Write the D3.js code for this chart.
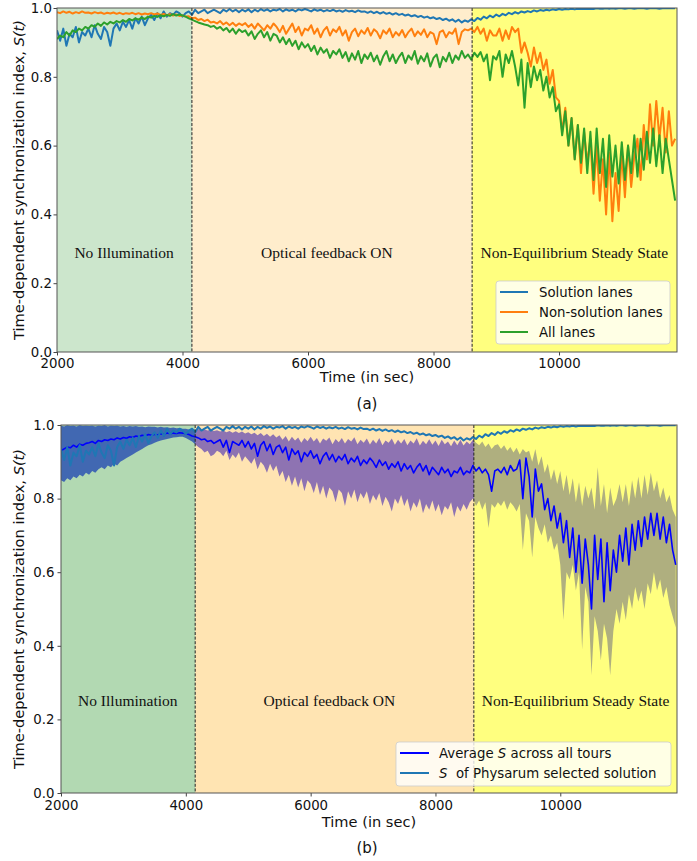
<!DOCTYPE html>
<html>
<head>
<meta charset="utf-8">
<script src="https://cdn.jsdelivr.net/npm/d3@7"></script>
<style>
  body { margin: 0; background: #fff; }
</style>
</head>
<body>
<div id="chart-container"></div>
<script>
// sampled every 50 s starting at 2000 s
const t_start = 2000;
const t_step = 50;

const solution_lanes = [
  0.935, 0.905, 0.94, 0.89, 0.925, 0.915, 0.945, 0.9, 0.93, 0.92,
  0.94, 0.915, 0.95, 0.925, 0.91, 0.945, 0.93, 0.89, 0.94, 0.955,
  0.935, 0.96, 0.945, 0.965, 0.94, 0.97, 0.955, 0.975, 0.95, 0.97,
  0.98, 0.965, 0.985, 0.97, 0.99, 0.975, 0.985, 0.98, 0.99, 0.985,
  0.975, 0.985, 0.99, 0.98, 0.995, 0.985, 0.99, 0.995, 0.985, 0.99,
  0.995, 0.99, 0.985, 0.995, 0.99, 0.997, 0.99, 0.995, 0.988, 0.995,
  0.99, 0.996, 0.988, 0.995, 0.99, 0.997, 0.992, 0.996, 0.99, 0.995,
  0.993, 0.997, 0.99, 0.996, 0.992, 0.995, 0.99, 0.996, 0.993, 0.997,
  0.994, 0.99, 0.996, 0.992, 0.995, 0.99, 0.994, 0.991, 0.995, 0.99,
  0.993, 0.989, 0.994, 0.99, 0.992, 0.988, 0.993, 0.989, 0.99, 0.986,
  0.99, 0.985, 0.989, 0.984, 0.988, 0.983, 0.986, 0.981, 0.985, 0.98,
  0.983, 0.978, 0.981, 0.976, 0.979, 0.974, 0.977, 0.972, 0.975, 0.97,
  0.973, 0.968, 0.971, 0.965, 0.969, 0.963, 0.967, 0.96, 0.966, 0.958,
  0.964, 0.96, 0.967, 0.962, 0.971, 0.966, 0.975, 0.97, 0.978, 0.973,
  0.981, 0.976, 0.983, 0.979, 0.986, 0.982, 0.988, 0.984, 0.99, 0.987,
  0.991, 0.988, 0.993, 0.99, 0.994, 0.992, 0.995, 0.993, 0.996, 0.994,
  0.997, 0.995, 0.997, 0.996, 0.998, 0.996, 0.998, 0.997, 0.998, 0.997,
  0.998, 0.997, 0.999, 0.998, 0.998, 0.999, 0.998, 0.999, 0.998, 0.999,
  0.999, 0.998, 0.999, 0.999, 0.998, 0.999, 0.999, 0.999, 0.998, 0.999,
  0.999, 0.999, 0.998, 0.999, 0.999, 0.999, 0.999, 0.999
];

const non_solution_lanes = [
  0.988, 0.985, 0.99, 0.986, 0.989, 0.984, 0.988, 0.985, 0.99, 0.986,
  0.987, 0.984, 0.988, 0.985, 0.987, 0.983, 0.986, 0.984, 0.987, 0.983,
  0.986, 0.982, 0.985, 0.983, 0.986, 0.982, 0.985, 0.981, 0.984, 0.982,
  0.985, 0.981, 0.984, 0.98, 0.983, 0.979, 0.982, 0.978, 0.981, 0.977,
  0.978, 0.975, 0.976, 0.97, 0.972, 0.965, 0.968, 0.962, 0.966, 0.958,
  0.96, 0.955, 0.962, 0.952, 0.958, 0.95, 0.957, 0.948, 0.955, 0.95,
  0.956, 0.945, 0.953, 0.94, 0.955, 0.945, 0.935, 0.95, 0.94, 0.955,
  0.945, 0.93, 0.948, 0.925, 0.94, 0.955, 0.93, 0.945, 0.92, 0.94,
  0.935, 0.95, 0.925, 0.94, 0.915, 0.935, 0.945, 0.92, 0.938, 0.93,
  0.945, 0.92, 0.935, 0.905, 0.93, 0.94, 0.918, 0.935, 0.925, 0.942,
  0.92, 0.938, 0.93, 0.912, 0.935, 0.925, 0.94, 0.915, 0.93, 0.92,
  0.936, 0.915, 0.93, 0.94, 0.918, 0.932, 0.922, 0.938, 0.915, 0.93,
  0.925, 0.895, 0.93, 0.935, 0.915, 0.93, 0.925, 0.94, 0.895, 0.93,
  0.938, 0.935, 0.94, 0.93, 0.945, 0.925, 0.94, 0.905, 0.935, 0.92,
  0.92, 0.94, 0.905, 0.935, 0.91, 0.945, 0.93, 0.94, 0.87, 0.9,
  0.87, 0.83, 0.885, 0.84, 0.87, 0.82, 0.85, 0.78, 0.82, 0.74,
  0.73, 0.64, 0.71, 0.6, 0.68, 0.56, 0.66, 0.52, 0.64, 0.55,
  0.62, 0.46, 0.6, 0.44, 0.56, 0.4, 0.58, 0.38, 0.52, 0.41,
  0.58, 0.45, 0.6, 0.48, 0.57, 0.62, 0.5, 0.66, 0.56, 0.72,
  0.6, 0.73, 0.62, 0.71, 0.58, 0.7, 0.6, 0.62
];

const all_lanes = [
  0.91, 0.92, 0.915, 0.93, 0.92, 0.935, 0.93, 0.94, 0.935, 0.945,
  0.94, 0.95, 0.945, 0.955, 0.948, 0.958, 0.952, 0.96, 0.955, 0.962,
  0.958, 0.965, 0.96, 0.968, 0.964, 0.97, 0.966, 0.972, 0.968, 0.975,
  0.972, 0.977, 0.974, 0.979, 0.976, 0.98, 0.977, 0.982, 0.978, 0.981,
  0.978, 0.975, 0.97, 0.966, 0.962, 0.958, 0.955, 0.952, 0.95, 0.945,
  0.948, 0.94, 0.945, 0.935, 0.942, 0.93, 0.94, 0.925, 0.938, 0.93,
  0.935, 0.92, 0.932, 0.91, 0.925, 0.935, 0.915, 0.93, 0.905, 0.925,
  0.92, 0.9, 0.915, 0.895, 0.91, 0.89, 0.905, 0.88, 0.9, 0.885,
  0.895, 0.875, 0.89, 0.865, 0.885, 0.87, 0.88, 0.855, 0.875, 0.865,
  0.88, 0.855, 0.872, 0.845, 0.868, 0.85, 0.875, 0.84, 0.865, 0.852,
  0.87, 0.845, 0.862, 0.835, 0.86, 0.875, 0.845, 0.865, 0.84, 0.858,
  0.87, 0.84, 0.862, 0.85, 0.875, 0.838, 0.86, 0.845, 0.868, 0.83,
  0.855, 0.865, 0.828, 0.858, 0.845, 0.87, 0.84, 0.862, 0.85, 0.875,
  0.855, 0.865, 0.85, 0.87, 0.858, 0.872, 0.845, 0.865, 0.79, 0.86,
  0.85, 0.875, 0.8, 0.865, 0.84, 0.875, 0.83, 0.775, 0.85, 0.71,
  0.84, 0.77, 0.83, 0.79, 0.82, 0.76, 0.8, 0.74, 0.77, 0.7,
  0.72, 0.63, 0.7, 0.6, 0.68, 0.56, 0.66, 0.55, 0.65, 0.52,
  0.64, 0.5, 0.65, 0.52, 0.62, 0.48, 0.63, 0.51, 0.6, 0.49,
  0.61, 0.5, 0.6, 0.52, 0.63, 0.51, 0.62, 0.53, 0.64, 0.55,
  0.65, 0.54, 0.63, 0.52, 0.62, 0.56, 0.5, 0.44
];

const average_s = [
  0.93, 0.935, 0.94, 0.938, 0.945, 0.94, 0.948, 0.945, 0.95, 0.952,
  0.955, 0.95, 0.958, 0.955, 0.96, 0.958, 0.962, 0.96, 0.965, 0.962,
  0.966, 0.964, 0.968, 0.966, 0.97, 0.968, 0.972, 0.97, 0.974, 0.972,
  0.975, 0.973, 0.976, 0.975, 0.978, 0.976, 0.978, 0.977, 0.979, 0.978,
  0.976, 0.974, 0.97, 0.968, 0.965, 0.96, 0.962, 0.955, 0.958, 0.95,
  0.955, 0.96, 0.94, 0.958, 0.925, 0.955, 0.95, 0.945, 0.958, 0.94,
  0.955, 0.935, 0.95, 0.915, 0.945, 0.955, 0.93, 0.948, 0.92, 0.94,
  0.945, 0.925, 0.94, 0.905, 0.935, 0.92, 0.93, 0.9, 0.925, 0.915,
  0.93, 0.91, 0.92, 0.895, 0.915, 0.925, 0.905, 0.92, 0.9, 0.915,
  0.905, 0.92, 0.895, 0.91, 0.9, 0.915, 0.89, 0.905, 0.895, 0.91,
  0.9, 0.885, 0.905, 0.89, 0.9, 0.88, 0.895, 0.885, 0.9, 0.875,
  0.895, 0.88, 0.89, 0.87, 0.885, 0.895, 0.875, 0.89, 0.865, 0.885,
  0.875, 0.865, 0.885, 0.87, 0.88, 0.86, 0.875, 0.87, 0.885, 0.865,
  0.875, 0.87, 0.89, 0.875, 0.885, 0.87, 0.88, 0.865, 0.82, 0.875,
  0.88, 0.87, 0.885, 0.865, 0.89, 0.875, 0.88, 0.905, 0.8, 0.91,
  0.86, 0.75, 0.88, 0.82, 0.84, 0.77, 0.8, 0.74, 0.78, 0.72,
  0.76, 0.68, 0.74, 0.64, 0.72, 0.6, 0.7, 0.57, 0.69, 0.62,
  0.5, 0.7, 0.58, 0.69, 0.52, 0.68, 0.55, 0.66, 0.6, 0.7,
  0.63, 0.72, 0.62, 0.73, 0.66, 0.74, 0.67, 0.75, 0.69, 0.76,
  0.7, 0.76, 0.69, 0.75, 0.68, 0.73, 0.66, 0.62
];

const band_low = [
  0.85, 0.845, 0.855, 0.85, 0.86, 0.855, 0.865, 0.86, 0.87, 0.865,
  0.875, 0.87, 0.88, 0.885, 0.88, 0.89, 0.885, 0.895, 0.89, 0.9,
  0.905, 0.91, 0.915, 0.92, 0.925, 0.93, 0.935, 0.94, 0.945, 0.948,
  0.952, 0.955, 0.958, 0.96, 0.962, 0.964, 0.966, 0.967, 0.968, 0.968,
  0.965, 0.96, 0.955, 0.948, 0.94, 0.935, 0.925, 0.93, 0.915, 0.92,
  0.93, 0.925, 0.915, 0.93, 0.905, 0.92, 0.91, 0.925, 0.9, 0.915,
  0.905, 0.895, 0.91, 0.88, 0.9, 0.89, 0.87, 0.895, 0.875, 0.89,
  0.86, 0.875, 0.845, 0.865, 0.835, 0.86, 0.83, 0.855, 0.82, 0.85,
  0.84, 0.815, 0.845, 0.81, 0.835, 0.8, 0.83, 0.82, 0.79, 0.825,
  0.815, 0.78, 0.82, 0.8, 0.825, 0.79, 0.815, 0.8, 0.82, 0.785,
  0.81, 0.795, 0.815, 0.78, 0.805, 0.79, 0.765, 0.8, 0.785, 0.81,
  0.78, 0.8, 0.765, 0.79, 0.775, 0.8, 0.76, 0.785, 0.77, 0.795,
  0.765, 0.785, 0.755, 0.78, 0.77, 0.79, 0.75, 0.78, 0.765, 0.785,
  0.77, 0.79, 0.8, 0.78, 0.795, 0.77, 0.79, 0.72, 0.785, 0.775,
  0.79, 0.78, 0.795, 0.77, 0.79, 0.78, 0.765, 0.785, 0.66, 0.76,
  0.74, 0.64, 0.75, 0.72, 0.7, 0.73, 0.68, 0.7, 0.66, 0.68,
  0.62, 0.47, 0.6, 0.58, 0.62, 0.55, 0.6, 0.39, 0.56, 0.52,
  0.32, 0.48, 0.44, 0.36, 0.46, 0.42, 0.32, 0.44, 0.5, 0.46,
  0.52, 0.47, 0.54, 0.5, 0.56, 0.52, 0.55, 0.5, 0.57, 0.54,
  0.6, 0.55, 0.58, 0.53, 0.56, 0.51, 0.48, 0.45
];

const band_high = [
  0.998, 0.996, 0.999, 0.997, 0.998, 0.996, 0.999, 0.997, 0.998, 0.997,
  0.998, 0.996, 0.998, 0.997, 0.999, 0.996, 0.998, 0.997, 0.998, 0.996,
  0.997, 0.995, 0.997, 0.996, 0.997, 0.995, 0.996, 0.994, 0.996, 0.995,
  0.995, 0.993, 0.995, 0.993, 0.994, 0.992, 0.993, 0.991, 0.992, 0.99,
  0.99, 0.988, 0.99, 0.987, 0.989, 0.986, 0.988, 0.985, 0.987, 0.984,
  0.986, 0.982, 0.985, 0.98, 0.984, 0.979, 0.983, 0.978, 0.982, 0.977,
  0.98, 0.975, 0.979, 0.972, 0.978, 0.97, 0.976, 0.968, 0.975, 0.966,
  0.972, 0.96, 0.97, 0.955, 0.968, 0.958, 0.966, 0.952, 0.965, 0.956,
  0.968, 0.955, 0.965, 0.95, 0.963, 0.957, 0.966, 0.948, 0.962, 0.953,
  0.965, 0.95, 0.962, 0.955, 0.967, 0.948, 0.96, 0.952, 0.963, 0.947,
  0.96, 0.95, 0.965, 0.945, 0.958, 0.952, 0.963, 0.946, 0.96, 0.95,
  0.962, 0.945, 0.958, 0.95, 0.964, 0.944, 0.957, 0.948, 0.961, 0.946,
  0.958, 0.943, 0.96, 0.948, 0.955, 0.942, 0.958, 0.945, 0.96, 0.944,
  0.955, 0.948, 0.96, 0.952, 0.945, 0.955, 0.94, 0.95, 0.935, 0.945,
  0.948, 0.935, 0.945, 0.93, 0.94, 0.925, 0.938, 0.92, 0.935, 0.925,
  0.93, 0.9, 0.935, 0.89, 0.915, 0.87, 0.895, 0.85, 0.88, 0.84,
  0.875, 0.82, 0.865, 0.81, 0.855, 0.79, 0.845, 0.78, 0.835, 0.8,
  0.83, 0.77, 0.885, 0.78, 0.84, 0.76, 0.83, 0.78, 0.8, 0.84,
  0.79, 0.84, 0.78, 0.85, 0.8, 0.86, 0.8, 0.865, 0.81, 0.87,
  0.82, 0.85, 0.8, 0.83, 0.79, 0.81, 0.77, 0.75
];

const x_ticks = [2000, 4000, 6000, 8000, 10000];
const y_ticks = [0, 0.2, 0.4, 0.6, 0.8, 1.0];
const phase_bounds = [2000, 4150, 8615, 12000];
const phase_names = ["No Illumination", "Optical feedback ON", "Non-Equilibrium Steady State"];
const phase_label_t = [3070, 6300, 10245];
const legend_a = ["Solution lanes", "Non-solution lanes", "All lanes"];

const times = solution_lanes.map((d, i) => t_start + i * t_step);

const sans = "'DejaVu Sans', sans-serif";
const serif = "'Liberation Serif', 'Times New Roman', serif";

let svg = d3
  .select("#chart-container")
  .append("svg")
  .attr("width", 697)
  .attr("height", 861)
  .style("background", "#fff");

const make_panel = (cfg) => {
  let x_scale = d3.scaleLinear().domain([2000, cfg.x_max]).range([cfg.left, cfg.right]);
  let y_scale = d3.scaleLinear().domain([0, 1]).range([cfg.bottom, cfg.top]);
  let g = svg.append("g").attr("class", "panel-" + cfg.id);

  g.append("clipPath")
    .attr("id", "clip-" + cfg.id)
    .append("rect")
    .attr("x", cfg.left)
    .attr("y", cfg.top)
    .attr("width", cfg.right - cfg.left)
    .attr("height", cfg.bottom - cfg.top);

  let plot = g.append("g").attr("clip-path", `url(#clip-${cfg.id})`);
  return { g, plot, x_scale, y_scale };
};

const draw_spans = (panel, cfg) => {
  let { plot, x_scale, y_scale } = panel;
  plot.selectAll(".span")
    .data(phase_names)
    .enter()
    .append("rect")
    .attr("class", "span")
    .attr("x", (d, i) => x_scale(phase_bounds[i]))
    .attr("width", (d, i) => x_scale(phase_bounds[i + 1]) - x_scale(phase_bounds[i]))
    .attr("y", y_scale(1))
    .attr("height", y_scale(0) - y_scale(1))
    .attr("fill", (d, i) => cfg.span_colors[i])
    .attr("fill-opacity", (d, i) => cfg.span_alpha[i]);
};

const draw_series = (panel, values, color, width) => {
  let { plot, x_scale, y_scale } = panel;
  let line = d3.line()
    .x((d, i) => x_scale(times[i]))
    .y((d) => y_scale(d));
  plot.append("path")
    .datum(values)
    .attr("d", line)
    .attr("fill", "none")
    .attr("stroke", color)
    .attr("stroke-width", width)
    .attr("stroke-linejoin", "round");
};

const draw_frame = (panel, cfg) => {
  let { g, plot, x_scale, y_scale } = panel;

  plot.selectAll(".phase-line")
    .data(phase_bounds.slice(1, 3))
    .enter()
    .append("line")
    .attr("x1", (d) => x_scale(d))
    .attr("x2", (d) => x_scale(d))
    .attr("y1", y_scale(1))
    .attr("y2", y_scale(0))
    .attr("stroke", "#222")
    .attr("stroke-width", 1)
    .attr("stroke-dasharray", "3,1.6");

  g.selectAll(".phase-label")
    .data(phase_names)
    .enter()
    .append("text")
    .attr("x", (d, i) => x_scale(phase_label_t[i]))
    .attr("y", cfg.label_y)
    .attr("text-anchor", "middle")
    .attr("font-family", serif)
    .attr("font-size", 15.5)
    .attr("fill", "#111")
    .text((d) => d);

  let x_axis = g.append("g")
    .attr("transform", `translate(0,${cfg.bottom})`)
    .call(d3.axisBottom(x_scale).tickValues(x_ticks).tickSize(3.5).tickPadding(cfg.x_pad).tickFormat(d3.format("d")));
  let y_axis = g.append("g")
    .attr("transform", `translate(${cfg.left},0)`)
    .call(d3.axisLeft(y_scale).tickValues(y_ticks).tickSize(3.5).tickPadding(cfg.y_pad).tickFormat(d3.format(".1f")));

  [x_axis, y_axis].forEach((ax) => {
    ax.select(".domain").remove();
    ax.selectAll(".tick line").attr("stroke", "#444");
    ax.selectAll(".tick text")
      .attr("fill", "#111")
      .style("font-family", sans)
      .style("font-size", "13.3px");
  });

  g.append("rect")
    .attr("x", cfg.left)
    .attr("y", cfg.top)
    .attr("width", cfg.right - cfg.left)
    .attr("height", cfg.bottom - cfg.top)
    .attr("fill", "none")
    .attr("stroke", "#555")
    .attr("stroke-width", 1);

  g.append("text")
    .attr("x", (cfg.left + cfg.right) / 2)
    .attr("y", cfg.xlabel_y)
    .attr("text-anchor", "middle")
    .attr("font-family", sans)
    .attr("font-size", 14.6)
    .attr("fill", "#111")
    .text("Time (in sec)");

  let ylab = g.append("text")
    .attr("transform", `translate(24,${(cfg.top + cfg.bottom) / 2}) rotate(-90)`)
    .attr("text-anchor", "middle")
    .attr("font-family", sans)
    .attr("font-size", 14.6)
    .attr("fill", "#111");
  ylab.append("tspan").text("Time-dependent synchronization index, ");
  ylab.append("tspan").attr("font-style", "italic").text("S(t)");

  g.append("text")
    .attr("x", 367)
    .attr("y", cfg.tag_y)
    .attr("text-anchor", "middle")
    .attr("font-family", sans)
    .attr("font-size", 15)
    .attr("fill", "#111")
    .text(cfg.tag);
};

// ---- panel (a)
let cfg_a = {
  id: "a", left: 57, right: 677, top: 8, bottom: 352, x_max: 11880,
  span_colors: ["green", "orange", "yellow"], span_alpha: [0.2, 0.2, 0.5],
  label_y: 258, x_pad: 3.5, y_pad: 1.5, xlabel_y: 382, tag: "(a)", tag_y: 409,
};
let panel_a = make_panel(cfg_a);
draw_spans(panel_a, cfg_a);
draw_series(panel_a, solution_lanes, "#1f77b4", 2);
draw_series(panel_a, non_solution_lanes, "#ff7f0e", 2);
draw_series(panel_a, all_lanes, "#2ca02c", 2);
draw_frame(panel_a, cfg_a);

let legend_colors_a = ["#1f77b4", "#ff7f0e", "#2ca02c"];
let leg_a = svg.append("g").attr("transform", "translate(496,281)");
leg_a.append("rect")
  .attr("width", 174).attr("height", 63).attr("rx", 3)
  .attr("fill", "#fff").attr("fill-opacity", 0.8)
  .attr("stroke", "#ccc").attr("stroke-opacity", 0.8);
leg_a.selectAll(".row")
  .data(legend_a)
  .enter()
  .append("g")
  .attr("transform", (d, i) => `translate(0,${11 + i * 20})`)
  .each(function (d, i) {
    let row = d3.select(this);
    row.append("line").attr("x1", 4).attr("x2", 32).attr("stroke", legend_colors_a[i]).attr("stroke-width", 2);
    row.append("text").attr("x", 43).attr("dy", "0.35em")
      .attr("font-family", sans).attr("font-size", 13.3).attr("fill", "#111").text(d);
  });

// ---- panel (b)
let cfg_b = {
  id: "b", left: 61, right: 677, top: 425, bottom: 793, x_max: 11870,
  span_colors: ["green", "orange", "yellow"], span_alpha: [0.3, 0.3, 0.5],
  label_y: 706, x_pad: 4.5, y_pad: 3, xlabel_y: 827, tag: "(b)", tag_y: 853,
};
let panel_b = make_panel(cfg_b);

let band = d3.area()
  .x((d, i) => panel_b.x_scale(times[i]))
  .y0((d, i) => panel_b.y_scale(band_low[i]))
  .y1((d, i) => panel_b.y_scale(band_high[i]));
panel_b.plot.append("path")
  .datum(average_s)
  .attr("d", band)
  .attr("fill", "#0000ff")
  .attr("fill-opacity", 0.63);

draw_spans(panel_b, cfg_b);
draw_series(panel_b, average_s, "#0000ff", 1.6);
draw_series(panel_b, solution_lanes, "#1f77b4", 2);
draw_frame(panel_b, cfg_b);

let leg_b = svg.append("g").attr("transform", "translate(396,742)");
leg_b.append("rect")
  .attr("width", 275).attr("height", 44).attr("rx", 3)
  .attr("fill", "#fff").attr("fill-opacity", 0.8)
  .attr("stroke", "#ccc").attr("stroke-opacity", 0.8);
let legend_b = [
  { color: "#0000ff", lead: "Average ", post: " across all tours" },
  { color: "#1f77b4", lead: "", post: "  of Physarum selected solution" },
];
legend_b.forEach((d, i) => {
  let row = leg_b.append("g").attr("transform", `translate(0,${11 + i * 20})`);
  row.append("line").attr("x1", 4).attr("x2", 33).attr("stroke", d.color).attr("stroke-width", 2);
  let txt = row.append("text").attr("x", 43).attr("dy", "0.35em")
    .attr("font-family", sans).attr("font-size", 13.3).attr("fill", "#111")
    .style("white-space", "pre");
  txt.append("tspan").text(d.lead);
  txt.append("tspan").attr("font-style", "italic").text("S");
  txt.append("tspan").text(d.post);
});
</script>
</body>
</html>
